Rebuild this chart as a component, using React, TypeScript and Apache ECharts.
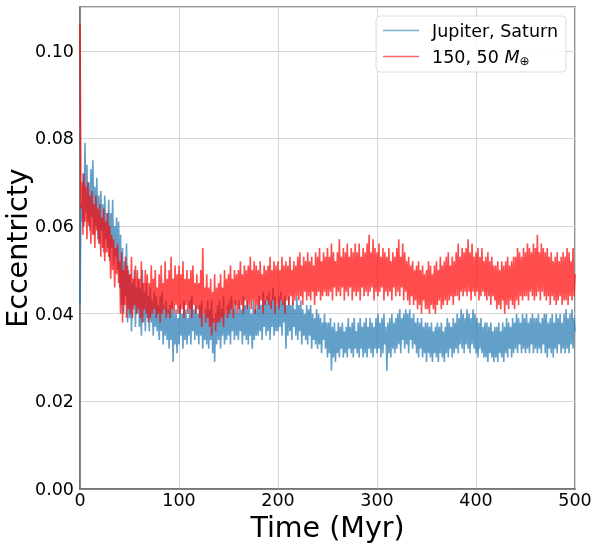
import React, { useEffect, useRef } from "react";
import * as echarts from "echarts";

const FONT = "DejaVu Sans";
const TIME_STEP_MYR = 1;
const SERIES_JS = "Jupiter, Saturn";
const SERIES_PL = "150, 50 M⊕";

// Eccentricity, Jupiter + Saturn run (one value per Myr, 0..500 Myr; one row = 10 Myr)
const jupiterSaturn = [
  0.042, 0.065, 0.061, 0.072, 0.060, 0.079, 0.063, 0.074, 0.061, 0.070,
  0.059, 0.073, 0.062, 0.075, 0.058, 0.069, 0.060, 0.071, 0.057, 0.067,
  0.056, 0.068, 0.059, 0.065, 0.054, 0.067, 0.057, 0.063, 0.055, 0.066,
  0.052, 0.063, 0.055, 0.066, 0.051, 0.060, 0.053, 0.062, 0.050, 0.061,
  0.046, 0.058, 0.042, 0.055, 0.040, 0.052, 0.044, 0.056, 0.038, 0.050,
  0.039, 0.049, 0.036, 0.047, 0.041, 0.050, 0.037, 0.046, 0.040, 0.048,
  0.037, 0.046, 0.035, 0.050, 0.038, 0.045, 0.036, 0.047, 0.039, 0.044,
  0.036, 0.046, 0.038, 0.043, 0.035, 0.045, 0.037, 0.044, 0.036, 0.042,
  0.034, 0.044, 0.036, 0.045, 0.033, 0.042, 0.035, 0.043, 0.034, 0.041,
  0.032, 0.042, 0.034, 0.043, 0.029, 0.040, 0.033, 0.041, 0.031, 0.039,
  0.033, 0.042, 0.035, 0.040, 0.032, 0.043, 0.034, 0.041, 0.033, 0.039,
  0.035, 0.043, 0.033, 0.044, 0.036, 0.041, 0.034, 0.042, 0.035, 0.040,
  0.033, 0.042, 0.035, 0.043, 0.032, 0.040, 0.034, 0.041, 0.033, 0.043,
  0.032, 0.041, 0.034, 0.043, 0.031, 0.039, 0.029, 0.040, 0.033, 0.042,
  0.034, 0.043, 0.032, 0.041, 0.035, 0.044, 0.033, 0.040, 0.034, 0.042,
  0.035, 0.043, 0.033, 0.044, 0.036, 0.041, 0.034, 0.043, 0.035, 0.040,
  0.034, 0.043, 0.036, 0.041, 0.033, 0.044, 0.035, 0.042, 0.034, 0.043,
  0.033, 0.042, 0.035, 0.040, 0.032, 0.043, 0.034, 0.041, 0.035, 0.042,
  0.035, 0.044, 0.036, 0.042, 0.034, 0.045, 0.037, 0.043, 0.035, 0.044,
  0.036, 0.045, 0.034, 0.043, 0.037, 0.046, 0.035, 0.044, 0.036, 0.042,
  0.036, 0.044, 0.037, 0.045, 0.035, 0.043, 0.038, 0.044, 0.032, 0.042,
  0.035, 0.044, 0.036, 0.042, 0.034, 0.043, 0.037, 0.041, 0.035, 0.044,
  0.034, 0.042, 0.036, 0.043, 0.033, 0.041, 0.035, 0.040, 0.034, 0.042,
  0.033, 0.041, 0.035, 0.042, 0.032, 0.040, 0.034, 0.039, 0.033, 0.041,
  0.032, 0.040, 0.033, 0.039, 0.031, 0.038, 0.034, 0.040, 0.032, 0.038,
  0.030, 0.038, 0.031, 0.039, 0.027, 0.037, 0.030, 0.038, 0.029, 0.036,
  0.031, 0.038, 0.030, 0.037, 0.032, 0.038, 0.030, 0.036, 0.031, 0.037,
  0.030, 0.039, 0.032, 0.037, 0.031, 0.038, 0.030, 0.039, 0.032, 0.036,
  0.031, 0.038, 0.030, 0.039, 0.032, 0.037, 0.030, 0.038, 0.031, 0.039,
  0.030, 0.037, 0.032, 0.039, 0.031, 0.038, 0.030, 0.037, 0.032, 0.039,
  0.031, 0.040, 0.032, 0.038, 0.030, 0.039, 0.031, 0.040, 0.033, 0.037,
  0.027, 0.038, 0.031, 0.039, 0.030, 0.040, 0.032, 0.038, 0.031, 0.039,
  0.032, 0.040, 0.033, 0.041, 0.031, 0.039, 0.034, 0.040, 0.032, 0.041,
  0.033, 0.040, 0.031, 0.041, 0.034, 0.039, 0.032, 0.040, 0.033, 0.038,
  0.031, 0.039, 0.030, 0.038, 0.032, 0.039, 0.030, 0.037, 0.031, 0.038,
  0.029, 0.038, 0.031, 0.037, 0.030, 0.038, 0.029, 0.036, 0.031, 0.037,
  0.030, 0.038, 0.029, 0.037, 0.031, 0.038, 0.030, 0.036, 0.029, 0.037,
  0.031, 0.039, 0.030, 0.038, 0.032, 0.037, 0.030, 0.039, 0.031, 0.038,
  0.032, 0.040, 0.031, 0.039, 0.033, 0.041, 0.032, 0.040, 0.031, 0.039,
  0.033, 0.041, 0.032, 0.040, 0.031, 0.039, 0.033, 0.041, 0.032, 0.040,
  0.031, 0.039, 0.030, 0.038, 0.032, 0.039, 0.031, 0.037, 0.030, 0.038,
  0.030, 0.038, 0.029, 0.037, 0.031, 0.038, 0.030, 0.036, 0.029, 0.037,
  0.030, 0.037, 0.029, 0.038, 0.031, 0.036, 0.030, 0.038, 0.029, 0.037,
  0.031, 0.039, 0.030, 0.038, 0.032, 0.037, 0.030, 0.039, 0.031, 0.038,
  0.032, 0.040, 0.031, 0.039, 0.033, 0.038, 0.031, 0.040, 0.032, 0.039,
  0.031, 0.040, 0.032, 0.038, 0.031, 0.039, 0.033, 0.040, 0.031, 0.039,
  0.032, 0.039, 0.031, 0.040, 0.032, 0.038, 0.031, 0.039, 0.033, 0.040,
  0.031, 0.040, 0.030, 0.038, 0.032, 0.039, 0.031, 0.040, 0.030, 0.038,
  0.032, 0.040, 0.031, 0.039, 0.033, 0.040, 0.031, 0.038, 0.032, 0.040,
  0.031, 0.041, 0.032, 0.039, 0.031, 0.040, 0.033, 0.041, 0.032, 0.039,
  0.036,
];

// Eccentricity, 150 + 50 Earth-mass run (one value per Myr, 0..500 Myr; one row = 10 Myr)
const planets150x50 = [
  0.106, 0.064, 0.070, 0.058, 0.072, 0.061, 0.069, 0.057, 0.070, 0.060,
  0.067, 0.056, 0.068, 0.058, 0.065, 0.055, 0.067, 0.059, 0.064, 0.056,
  0.065, 0.053, 0.062, 0.055, 0.064, 0.052, 0.061, 0.054, 0.063, 0.053,
  0.060, 0.048, 0.058, 0.050, 0.057, 0.046, 0.055, 0.049, 0.056, 0.047,
  0.052, 0.040, 0.054, 0.038, 0.050, 0.042, 0.053, 0.039, 0.051, 0.041,
  0.049, 0.040, 0.053, 0.039, 0.048, 0.042, 0.051, 0.040, 0.050, 0.041,
  0.048, 0.039, 0.052, 0.038, 0.047, 0.041, 0.050, 0.040, 0.049, 0.038,
  0.047, 0.039, 0.051, 0.040, 0.048, 0.041, 0.050, 0.039, 0.046, 0.040,
  0.049, 0.038, 0.051, 0.040, 0.047, 0.041, 0.052, 0.039, 0.048, 0.040,
  0.050, 0.039, 0.053, 0.041, 0.048, 0.040, 0.051, 0.042, 0.049, 0.040,
  0.051, 0.040, 0.049, 0.041, 0.052, 0.039, 0.048, 0.042, 0.050, 0.040,
  0.048, 0.041, 0.050, 0.039, 0.051, 0.042, 0.047, 0.040, 0.049, 0.041,
  0.047, 0.039, 0.050, 0.037, 0.055, 0.040, 0.046, 0.038, 0.049, 0.039,
  0.046, 0.037, 0.048, 0.035, 0.045, 0.038, 0.049, 0.036, 0.046, 0.038,
  0.047, 0.038, 0.049, 0.039, 0.046, 0.037, 0.050, 0.040, 0.048, 0.039,
  0.049, 0.040, 0.051, 0.041, 0.048, 0.039, 0.050, 0.042, 0.049, 0.040,
  0.050, 0.041, 0.052, 0.042, 0.049, 0.040, 0.051, 0.043, 0.050, 0.041,
  0.051, 0.042, 0.053, 0.041, 0.050, 0.043, 0.052, 0.040, 0.051, 0.042,
  0.050, 0.041, 0.052, 0.043, 0.049, 0.040, 0.051, 0.042, 0.050, 0.043,
  0.051, 0.042, 0.053, 0.041, 0.050, 0.043, 0.052, 0.040, 0.051, 0.042,
  0.052, 0.041, 0.050, 0.043, 0.053, 0.042, 0.051, 0.040, 0.052, 0.043,
  0.051, 0.042, 0.053, 0.044, 0.050, 0.042, 0.052, 0.043, 0.051, 0.044,
  0.053, 0.043, 0.054, 0.044, 0.051, 0.042, 0.053, 0.045, 0.052, 0.043,
  0.054, 0.044, 0.052, 0.043, 0.053, 0.045, 0.051, 0.042, 0.054, 0.044,
  0.053, 0.045, 0.055, 0.043, 0.052, 0.044, 0.054, 0.045, 0.053, 0.044,
  0.055, 0.044, 0.053, 0.045, 0.056, 0.043, 0.054, 0.046, 0.052, 0.044,
  0.054, 0.045, 0.057, 0.044, 0.053, 0.046, 0.055, 0.043, 0.054, 0.045,
  0.056, 0.044, 0.053, 0.046, 0.055, 0.043, 0.054, 0.045, 0.056, 0.044,
  0.054, 0.045, 0.056, 0.043, 0.053, 0.046, 0.055, 0.044, 0.054, 0.045,
  0.056, 0.044, 0.058, 0.045, 0.054, 0.046, 0.057, 0.043, 0.055, 0.045,
  0.054, 0.044, 0.056, 0.045, 0.053, 0.046, 0.055, 0.043, 0.054, 0.045,
  0.053, 0.044, 0.055, 0.045, 0.052, 0.043, 0.054, 0.046, 0.053, 0.044,
  0.055, 0.045, 0.057, 0.044, 0.053, 0.046, 0.056, 0.043, 0.054, 0.045,
  0.052, 0.043, 0.053, 0.042, 0.051, 0.044, 0.052, 0.042, 0.050, 0.043,
  0.051, 0.041, 0.052, 0.042, 0.050, 0.040, 0.051, 0.043, 0.049, 0.041,
  0.050, 0.041, 0.052, 0.040, 0.051, 0.042, 0.049, 0.041, 0.051, 0.040,
  0.052, 0.042, 0.050, 0.043, 0.053, 0.041, 0.051, 0.042, 0.052, 0.043,
  0.053, 0.042, 0.054, 0.043, 0.051, 0.044, 0.053, 0.042, 0.052, 0.044,
  0.054, 0.044, 0.056, 0.043, 0.053, 0.045, 0.055, 0.044, 0.054, 0.045,
  0.055, 0.044, 0.057, 0.045, 0.054, 0.043, 0.056, 0.045, 0.053, 0.044,
  0.054, 0.045, 0.055, 0.043, 0.053, 0.044, 0.055, 0.045, 0.052, 0.044,
  0.053, 0.043, 0.054, 0.044, 0.052, 0.042, 0.053, 0.044, 0.051, 0.043,
  0.051, 0.041, 0.052, 0.042, 0.050, 0.041, 0.052, 0.043, 0.051, 0.040,
  0.052, 0.042, 0.053, 0.041, 0.051, 0.043, 0.052, 0.042, 0.053, 0.041,
  0.053, 0.043, 0.055, 0.042, 0.054, 0.044, 0.053, 0.043, 0.055, 0.044,
  0.054, 0.044, 0.056, 0.043, 0.055, 0.045, 0.054, 0.044, 0.056, 0.043,
  0.055, 0.044, 0.058, 0.045, 0.054, 0.043, 0.056, 0.045, 0.055, 0.044,
  0.054, 0.043, 0.055, 0.044, 0.053, 0.042, 0.054, 0.044, 0.052, 0.043,
  0.053, 0.042, 0.054, 0.043, 0.052, 0.044, 0.053, 0.042, 0.054, 0.043,
  0.053, 0.043, 0.055, 0.042, 0.054, 0.044, 0.052, 0.043, 0.055, 0.044,
  0.049,
];

const X_MIN = 0;
const X_MAX = 500;
const X_INTERVAL = 100;
const Y_MIN = 0;
const Y_MAX = 0.11;
const Y_INTERVAL = 0.02;

export default function App() {
  const ref = useRef<HTMLDivElement>(null);

  useEffect(() => {
    if (!ref.current) return;
    const chart = echarts.init(ref.current, null, { renderer: "svg" });
    const toPairs = (vals: number[]) =>
      vals.map((v, i) => [i * TIME_STEP_MYR, v]);
    const spine = "#6e6e6e";
    const gridColor = "#d6d6d6";

    chart.setOption({
      animation: false,
      textStyle: { fontFamily: FONT },
      grid: {
        left: 80,
        right: 18,
        top: 7,
        bottom: 55,
        outerBoundsMode: "none",
        containLabel: false,
        show: true,
        borderColor: spine,
        borderWidth: 1.5,
        backgroundColor: "transparent",
      },
      xAxis: {
        type: "value",
        min: X_MIN,
        max: X_MAX,
        interval: X_INTERVAL,
        name: "Time (Myr)",
        nameLocation: "middle",
        nameGap: 24,
        nameMoveOverlap: false,
        nameTextStyle: { fontSize: 28.5, lineHeight: 28, color: "#000", fontFamily: FONT },
        axisLine: { show: true, lineStyle: { color: spine, width: 1.5 } },
        axisTick: { show: false },
        axisLabel: { fontSize: 17.5, lineHeight: 16, color: "#000", margin: 3, fontFamily: FONT },
        splitLine: { show: true, lineStyle: { color: gridColor, width: 1 } },
      },
      yAxis: {
        type: "value",
        min: Y_MIN,
        max: Y_MAX,
        interval: Y_INTERVAL,
        name: "Eccentricty",
        nameLocation: "middle",
        nameRotate: 90,
        nameGap: 48,
        nameMoveOverlap: false,
        nameTextStyle: { fontSize: 28.5, color: "#000", fontFamily: FONT },
        axisLine: { show: true, lineStyle: { color: spine, width: 1.5 } },
        axisTick: { show: false },
        axisLabel: {
          fontSize: 17.5,
          color: "#000",
          margin: 6,
          fontFamily: FONT,
          showMaxLabel: false,
          formatter: (v: number) => v.toFixed(2),
        },
        splitLine: { show: true, lineStyle: { color: gridColor, width: 1 } },
      },
      legend: {
        orient: "vertical",
        right: 27,
        top: 16,
        padding: [4, 8, 5, 7],
        itemGap: 5,
        backgroundColor: "rgba(255,255,255,0.85)",
        borderColor: "#dcdcdc",
        borderWidth: 1,
        borderRadius: 4,
        icon: "rect",
        itemWidth: 36,
        itemHeight: 1.5,
        itemStyle: { opacity: 0.6 },
        textStyle: {
          fontSize: 17.5,
          color: "#000",
          fontFamily: FONT,
          lineHeight: 21,
          padding: [0, 0, 0, 8],
          rich: {
            m: { fontStyle: "italic", fontSize: 17.5, lineHeight: 21, fontFamily: FONT, color: "#000" },
            s: { fontSize: 12, lineHeight: 12, verticalAlign: "bottom", fontFamily: FONT, color: "#000" },
          },
        },
        formatter: (name: string) =>
          name === SERIES_PL ? "150, 50 {m|M}{s|⊕}" : name,
        data: [SERIES_JS, SERIES_PL],
      },
      series: [
        {
          name: SERIES_JS,
          type: "line",
          data: toPairs(jupiterSaturn),
          showSymbol: false,
          symbol: "none",
          color: "#1f77b4",
          lineStyle: { width: 1.6, opacity: 0.7 },
          z: 2,
        },
        {
          name: SERIES_PL,
          type: "line",
          data: toPairs(planets150x50),
          showSymbol: false,
          symbol: "none",
          color: "#ff0000",
          lineStyle: { width: 1.6, opacity: 0.7 },
          z: 3,
        },
      ],
    });

    return () => chart.dispose();
  }, []);

  return (
    <div
      ref={ref}
      style={{ position: "fixed", left: 0, top: 0, width: 593, height: 544 }}
    />
  );
}
